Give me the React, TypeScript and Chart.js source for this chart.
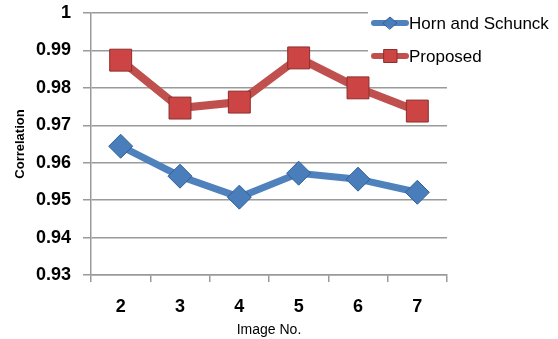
import React, { useEffect, useRef } from "react";
import { Chart, registerables } from "chart.js";

Chart.register(...registerables);

const categories = ["2", "3", "4", "5", "6", "7"];
const hornSchunck = [0.9644, 0.9564, 0.9508, 0.9572, 0.9556, 0.9521];
const proposed = [0.9874, 0.9746, 0.9762, 0.988, 0.98, 0.9738];
const yTicks = [0.93, 0.94, 0.95, 0.96, 0.97, 0.98, 0.99, 1];
const seriesNames = ["Horn and Schunck", "Proposed"];

const FONT = "'Liberation Sans', Arial, sans-serif";

const legendPlugin = {
  id: "customLegend",
  afterDraw(chart: any) {
    const ctx = chart.ctx;
    ctx.save();
    ctx.fillStyle = "#ffffff";
    ctx.fillRect(368, 6, 190, 66);
    const items = chart.data.datasets.map((ds: any, i: number) => ({
      label: ds.label,
      color: ds.borderColor,
      fill: ds.pointBackgroundColor,
      stroke: ds.pointBorderColor,
      style: ds.pointStyle,
      y: i === 0 ? 23 : 56,
    }));
    items.forEach((it: any) => {
      ctx.strokeStyle = it.color;
      ctx.lineWidth = 6;
      ctx.lineCap = "round";
      ctx.beginPath();
      ctx.moveTo(374, it.y);
      ctx.lineTo(406, it.y);
      ctx.stroke();
      ctx.fillStyle = it.fill;
      ctx.strokeStyle = it.stroke;
      ctx.lineWidth = 1;
      ctx.beginPath();
      if (it.style === "rect") {
        ctx.rect(384, it.y - 6.5, 13, 13);
      } else {
        ctx.moveTo(390 - 7, it.y);
        ctx.lineTo(390, it.y - 6);
        ctx.lineTo(390 + 7, it.y);
        ctx.lineTo(390, it.y + 6);
        ctx.closePath();
      }
      ctx.fill();
      ctx.stroke();
      ctx.fillStyle = "#000000";
      ctx.font = "17px " + FONT;
      ctx.textBaseline = "middle";
      ctx.textAlign = "left";
      ctx.fillText(it.label, 409, it.y + 1);
    });
    ctx.restore();
  },
};

export default function App() {
  const ref = useRef<HTMLCanvasElement>(null);
  useEffect(() => {
    document.body.style.margin = "0";
    const chart = new Chart(ref.current!, {
      type: "line",
      data: {
        labels: categories,
        datasets: [
          {
            label: seriesNames[0],
            data: hornSchunck,
            borderColor: "#4f81bd",
            borderWidth: 7,
            pointStyle: "rectRot",
            pointRadius: 12,
            pointBackgroundColor: "#4a7ebb",
            pointBorderColor: "#2f5f98",
            pointBorderWidth: 1,
            tension: 0,
            clip: false,
          },
          {
            label: seriesNames[1],
            data: proposed,
            borderColor: "#c0504d",
            borderWidth: 8,
            pointStyle: "rect",
            pointRadius: 15.5,
            pointBackgroundColor: "#cc4444",
            pointBorderColor: "#8c2f2d",
            pointBorderWidth: 1,
            tension: 0,
            clip: false,
          },
        ],
      },
      options: {
        animation: false,
        responsive: false,
        maintainAspectRatio: false,
        layout: { autoPadding: false, padding: { left: 0, top: 13, right: 111, bottom: 0 } },
        plugins: { legend: { display: false }, tooltip: { enabled: false } },
        scales: {
          x: {
            offset: true,
            afterFit: (s: any) => {
              s.height = 64;
            },
            grid: {
              offset: true,
              drawOnChartArea: false,
              tickLength: 7,
              color: "#9a9a9a",
              lineWidth: 1.5,
            },
            border: { color: "#9a9a9a", width: 1.5 },
            ticks: {
              font: { family: FONT, size: 18, weight: "bold" },
              color: "#000000",
              padding: 14,
            },
            title: {
              display: true,
              text: "Image No.",
              font: { family: FONT, size: 14 },
              color: "#000000",
              padding: { top: 0, bottom: 0 },
            },
          },
          y: {
            min: 0.93,
            max: 1,
            afterFit: (s: any) => {
              s.width = 91;
              s.paddingTop = 0;
              s.paddingBottom = 0;
            },
            afterBuildTicks: (s: any) => {
              s.ticks = yTicks.map((v) => ({ value: v }));
            },
            grid: {
              color: "#9a9a9a",
              lineWidth: 1.5,
              tickLength: 8,
            },
            border: { color: "#9a9a9a", width: 1.5 },
            ticks: {
              font: { family: FONT, size: 18, weight: "bold" },
              color: "#000000",
              padding: 12,
              callback: (v: any) => String(Math.round(Number(v) * 100) / 100),
            },
            title: {
              display: true,
              text: "Correlation",
              font: { family: FONT, size: 13, weight: "bold" },
              color: "#000000",
              padding: { top: 13, bottom: 0 },
            },
          },
        },
      },
      plugins: [legendPlugin],
    });
    return () => chart.destroy();
  }, []);
  return (
    <div style={{ width: 558, height: 339 }}>
      <canvas ref={ref} width={558} height={339} style={{ display: "block" }} />
    </div>
  );
}
